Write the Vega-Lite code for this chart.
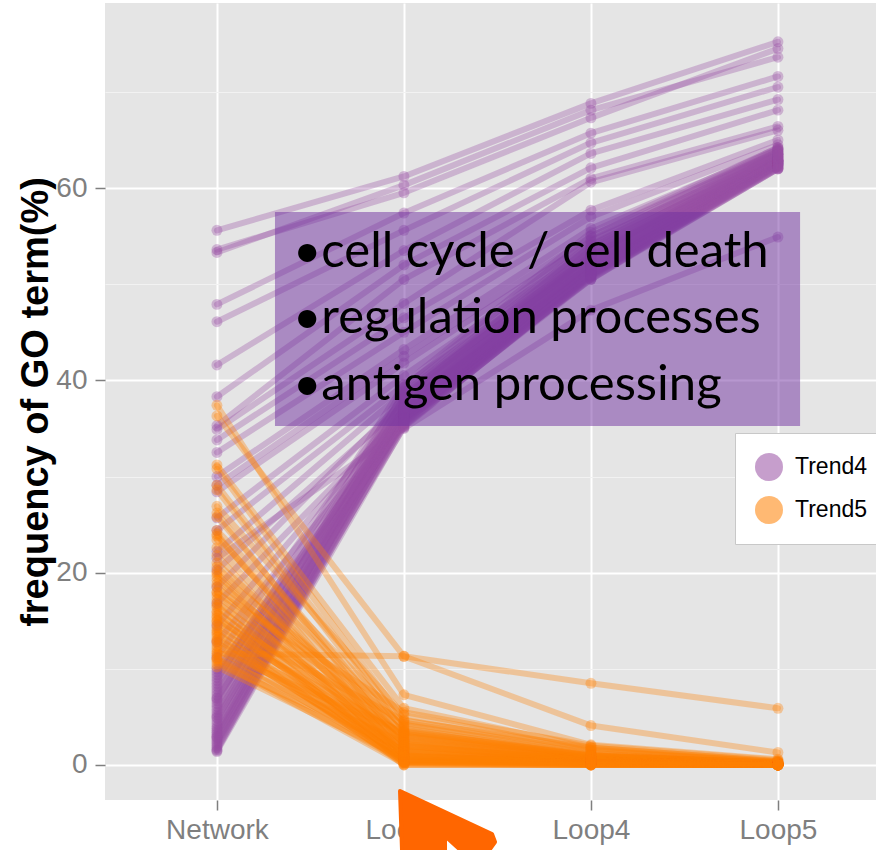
{
  "$schema": "https://vega.github.io/schema/vega-lite/v6.json",
  "width": 771,
  "height": 797,
  "autosize": {"type": "none"},
  "padding": {"left": 105, "top": 3, "right": 0, "bottom": 50},
  "background": "white",
  "config": {
    "view": {"fill": "#E5E5E5", "stroke": null},
    "font": "Liberation Sans"
  },
  "resolve": {"scale": {"x": "independent"}},
  "layer": [
    {
      "data": {"values": [
        {"id":"p1","trend":"Trend4","stage":"Network","pct":55.6},{"id":"p1","trend":"Trend4","stage":"Loop3","pct":61.2},{"id":"p1","trend":"Trend4","stage":"Loop4","pct":68.8},{"id":"p1","trend":"Trend4","stage":"Loop5","pct":75.2},
        {"id":"p2","trend":"Trend4","stage":"Network","pct":53.6},{"id":"p2","trend":"Trend4","stage":"Loop3","pct":59.5},{"id":"p2","trend":"Trend4","stage":"Loop4","pct":67.3},{"id":"p2","trend":"Trend4","stage":"Loop5","pct":74.5},
        {"id":"p3","trend":"Trend4","stage":"Network","pct":53.3},{"id":"p3","trend":"Trend4","stage":"Loop3","pct":60.3},{"id":"p3","trend":"Trend4","stage":"Loop4","pct":68.1},{"id":"p3","trend":"Trend4","stage":"Loop5","pct":73.6},
        {"id":"p4","trend":"Trend4","stage":"Network","pct":47.9},{"id":"p4","trend":"Trend4","stage":"Loop3","pct":57.4},{"id":"p4","trend":"Trend4","stage":"Loop4","pct":65.7},{"id":"p4","trend":"Trend4","stage":"Loop5","pct":71.6},
        {"id":"p5","trend":"Trend4","stage":"Network","pct":46.1},{"id":"p5","trend":"Trend4","stage":"Loop3","pct":55.6},{"id":"p5","trend":"Trend4","stage":"Loop4","pct":64.7},{"id":"p5","trend":"Trend4","stage":"Loop5","pct":70.5},
        {"id":"p6","trend":"Trend4","stage":"Network","pct":41.6},{"id":"p6","trend":"Trend4","stage":"Loop3","pct":53.5},{"id":"p6","trend":"Trend4","stage":"Loop4","pct":63.6},{"id":"p6","trend":"Trend4","stage":"Loop5","pct":69.2},
        {"id":"p7","trend":"Trend4","stage":"Network","pct":38.3},{"id":"p7","trend":"Trend4","stage":"Loop3","pct":52.0},{"id":"p7","trend":"Trend4","stage":"Loop4","pct":62.1},{"id":"p7","trend":"Trend4","stage":"Loop5","pct":68.1},
        {"id":"p8","trend":"Trend4","stage":"Network","pct":35.3},{"id":"p8","trend":"Trend4","stage":"Loop3","pct":50.5},{"id":"p8","trend":"Trend4","stage":"Loop4","pct":61.0},{"id":"p8","trend":"Trend4","stage":"Loop5","pct":66.4},
        {"id":"p9","trend":"Trend4","stage":"Network","pct":34.9},{"id":"p9","trend":"Trend4","stage":"Loop3","pct":48.0},{"id":"p9","trend":"Trend4","stage":"Loop4","pct":60.6},{"id":"p9","trend":"Trend4","stage":"Loop5","pct":66.0},
        {"id":"p10","trend":"Trend4","stage":"Network","pct":33.8},{"id":"p10","trend":"Trend4","stage":"Loop3","pct":46.5},{"id":"p10","trend":"Trend4","stage":"Loop4","pct":57.7},{"id":"p10","trend":"Trend4","stage":"Loop5","pct":65.0},
        {"id":"p11","trend":"Trend4","stage":"Network","pct":32.5},{"id":"p11","trend":"Trend4","stage":"Loop3","pct":45.0},{"id":"p11","trend":"Trend4","stage":"Loop4","pct":57.0},{"id":"p11","trend":"Trend4","stage":"Loop5","pct":64.5},
        {"id":"p12","trend":"Trend4","stage":"Network","pct":30.0},{"id":"p12","trend":"Trend4","stage":"Loop3","pct":43.2},{"id":"p12","trend":"Trend4","stage":"Loop4","pct":55.8},{"id":"p12","trend":"Trend4","stage":"Loop5","pct":64.0},
        {"id":"p13","trend":"Trend4","stage":"Network","pct":29.1},{"id":"p13","trend":"Trend4","stage":"Loop3","pct":42.5},{"id":"p13","trend":"Trend4","stage":"Loop4","pct":55.0},{"id":"p13","trend":"Trend4","stage":"Loop5","pct":63.8},
        {"id":"p14","trend":"Trend4","stage":"Network","pct":28.4},{"id":"p14","trend":"Trend4","stage":"Loop3","pct":41.8},{"id":"p14","trend":"Trend4","stage":"Loop4","pct":54.5},{"id":"p14","trend":"Trend4","stage":"Loop5","pct":63.5},
        {"id":"p15","trend":"Trend4","stage":"Network","pct":25.7},{"id":"p15","trend":"Trend4","stage":"Loop3","pct":40.5},{"id":"p15","trend":"Trend4","stage":"Loop4","pct":53.8},{"id":"p15","trend":"Trend4","stage":"Loop5","pct":63.2},
        {"id":"p16","trend":"Trend4","stage":"Network","pct":24.4},{"id":"p16","trend":"Trend4","stage":"Loop3","pct":39.5},{"id":"p16","trend":"Trend4","stage":"Loop4","pct":53.0},{"id":"p16","trend":"Trend4","stage":"Loop5","pct":62.9},
        {"id":"p17","trend":"Trend4","stage":"Network","pct":22.2},{"id":"p17","trend":"Trend4","stage":"Loop3","pct":38.8},{"id":"p17","trend":"Trend4","stage":"Loop4","pct":52.5},{"id":"p17","trend":"Trend4","stage":"Loop5","pct":62.8},
        {"id":"p18","trend":"Trend4","stage":"Network","pct":21.5},{"id":"p18","trend":"Trend4","stage":"Loop3","pct":35.0},{"id":"p18","trend":"Trend4","stage":"Loop4","pct":47.3},{"id":"p18","trend":"Trend4","stage":"Loop5","pct":54.9},
        {"id":"p19","trend":"Trend4","stage":"Network","pct":20.3},{"id":"p19","trend":"Trend4","stage":"Loop3","pct":37.5},{"id":"p19","trend":"Trend4","stage":"Loop4","pct":51.5},{"id":"p19","trend":"Trend4","stage":"Loop5","pct":62.6},
        {"id":"p20","trend":"Trend4","stage":"Network","pct":18.5},{"id":"p20","trend":"Trend4","stage":"Loop3","pct":38.0},{"id":"p20","trend":"Trend4","stage":"Loop4","pct":52.0},{"id":"p20","trend":"Trend4","stage":"Loop5","pct":62.7},
        {"id":"p21","trend":"Trend4","stage":"Network","pct":16.8},{"id":"p21","trend":"Trend4","stage":"Loop3","pct":36.5},{"id":"p21","trend":"Trend4","stage":"Loop4","pct":51.0},{"id":"p21","trend":"Trend4","stage":"Loop5","pct":62.5},
        {"id":"p22","trend":"Trend4","stage":"Network","pct":14.5},{"id":"p22","trend":"Trend4","stage":"Loop3","pct":37.0},{"id":"p22","trend":"Trend4","stage":"Loop4","pct":51.8},{"id":"p22","trend":"Trend4","stage":"Loop5","pct":62.9},
        {"id":"p23","trend":"Trend4","stage":"Network","pct":12.8},{"id":"p23","trend":"Trend4","stage":"Loop3","pct":36.0},{"id":"p23","trend":"Trend4","stage":"Loop4","pct":50.5},{"id":"p23","trend":"Trend4","stage":"Loop5","pct":62.4},
        {"id":"p24","trend":"Trend4","stage":"Network","pct":11.2},{"id":"p24","trend":"Trend4","stage":"Loop3","pct":38.5},{"id":"p24","trend":"Trend4","stage":"Loop4","pct":53.0},{"id":"p24","trend":"Trend4","stage":"Loop5","pct":63.3},
        {"id":"b1","trend":"Trend4","stage":"Network","pct":1.4},{"id":"b1","trend":"Trend4","stage":"Loop3","pct":35.2},{"id":"b1","trend":"Trend4","stage":"Loop4","pct":50.8},{"id":"b1","trend":"Trend4","stage":"Loop5","pct":62.1},
        {"id":"b2","trend":"Trend4","stage":"Network","pct":1.6},{"id":"b2","trend":"Trend4","stage":"Loop3","pct":35.6},{"id":"b2","trend":"Trend4","stage":"Loop4","pct":51.2},{"id":"b2","trend":"Trend4","stage":"Loop5","pct":62.4},
        {"id":"b3","trend":"Trend4","stage":"Network","pct":1.8},{"id":"b3","trend":"Trend4","stage":"Loop3","pct":36.1},{"id":"b3","trend":"Trend4","stage":"Loop4","pct":51.9},{"id":"b3","trend":"Trend4","stage":"Loop5","pct":62.8},
        {"id":"b4","trend":"Trend4","stage":"Network","pct":2.0},{"id":"b4","trend":"Trend4","stage":"Loop3","pct":35.4},{"id":"b4","trend":"Trend4","stage":"Loop4","pct":50.5},{"id":"b4","trend":"Trend4","stage":"Loop5","pct":62.0},
        {"id":"b5","trend":"Trend4","stage":"Network","pct":2.2},{"id":"b5","trend":"Trend4","stage":"Loop3","pct":36.8},{"id":"b5","trend":"Trend4","stage":"Loop4","pct":52.6},{"id":"b5","trend":"Trend4","stage":"Loop5","pct":63.1},
        {"id":"b6","trend":"Trend4","stage":"Network","pct":2.4},{"id":"b6","trend":"Trend4","stage":"Loop3","pct":35.9},{"id":"b6","trend":"Trend4","stage":"Loop4","pct":51.4},{"id":"b6","trend":"Trend4","stage":"Loop5","pct":62.5},
        {"id":"b7","trend":"Trend4","stage":"Network","pct":2.6},{"id":"b7","trend":"Trend4","stage":"Loop3","pct":37.3},{"id":"b7","trend":"Trend4","stage":"Loop4","pct":53.0},{"id":"b7","trend":"Trend4","stage":"Loop5","pct":63.4},
        {"id":"b8","trend":"Trend4","stage":"Network","pct":2.8},{"id":"b8","trend":"Trend4","stage":"Loop3","pct":36.4},{"id":"b8","trend":"Trend4","stage":"Loop4","pct":52.1},{"id":"b8","trend":"Trend4","stage":"Loop5","pct":62.7},
        {"id":"b9","trend":"Trend4","stage":"Network","pct":3.0},{"id":"b9","trend":"Trend4","stage":"Loop3","pct":35.1},{"id":"b9","trend":"Trend4","stage":"Loop4","pct":50.9},{"id":"b9","trend":"Trend4","stage":"Loop5","pct":62.2},
        {"id":"b10","trend":"Trend4","stage":"Network","pct":3.2},{"id":"b10","trend":"Trend4","stage":"Loop3","pct":37.8},{"id":"b10","trend":"Trend4","stage":"Loop4","pct":53.5},{"id":"b10","trend":"Trend4","stage":"Loop5","pct":63.6},
        {"id":"b11","trend":"Trend4","stage":"Network","pct":3.4},{"id":"b11","trend":"Trend4","stage":"Loop3","pct":36.2},{"id":"b11","trend":"Trend4","stage":"Loop4","pct":51.7},{"id":"b11","trend":"Trend4","stage":"Loop5","pct":62.6},
        {"id":"b12","trend":"Trend4","stage":"Network","pct":3.6},{"id":"b12","trend":"Trend4","stage":"Loop3","pct":38.4},{"id":"b12","trend":"Trend4","stage":"Loop4","pct":54.1},{"id":"b12","trend":"Trend4","stage":"Loop5","pct":63.9},
        {"id":"b13","trend":"Trend4","stage":"Network","pct":3.8},{"id":"b13","trend":"Trend4","stage":"Loop3","pct":35.7},{"id":"b13","trend":"Trend4","stage":"Loop4","pct":51.1},{"id":"b13","trend":"Trend4","stage":"Loop5","pct":62.3},
        {"id":"b14","trend":"Trend4","stage":"Network","pct":4.0},{"id":"b14","trend":"Trend4","stage":"Loop3","pct":37.0},{"id":"b14","trend":"Trend4","stage":"Loop4","pct":52.8},{"id":"b14","trend":"Trend4","stage":"Loop5","pct":63.2},
        {"id":"b15","trend":"Trend4","stage":"Network","pct":4.3},{"id":"b15","trend":"Trend4","stage":"Loop3","pct":36.6},{"id":"b15","trend":"Trend4","stage":"Loop4","pct":52.3},{"id":"b15","trend":"Trend4","stage":"Loop5","pct":62.9},
        {"id":"b16","trend":"Trend4","stage":"Network","pct":4.6},{"id":"b16","trend":"Trend4","stage":"Loop3","pct":38.9},{"id":"b16","trend":"Trend4","stage":"Loop4","pct":54.6},{"id":"b16","trend":"Trend4","stage":"Loop5","pct":64.1},
        {"id":"b17","trend":"Trend4","stage":"Network","pct":4.9},{"id":"b17","trend":"Trend4","stage":"Loop3","pct":35.3},{"id":"b17","trend":"Trend4","stage":"Loop4","pct":50.7},{"id":"b17","trend":"Trend4","stage":"Loop5","pct":62.0},
        {"id":"b18","trend":"Trend4","stage":"Network","pct":5.2},{"id":"b18","trend":"Trend4","stage":"Loop3","pct":37.6},{"id":"b18","trend":"Trend4","stage":"Loop4","pct":53.3},{"id":"b18","trend":"Trend4","stage":"Loop5","pct":63.5},
        {"id":"b19","trend":"Trend4","stage":"Network","pct":5.5},{"id":"b19","trend":"Trend4","stage":"Loop3","pct":36.0},{"id":"b19","trend":"Trend4","stage":"Loop4","pct":51.6},{"id":"b19","trend":"Trend4","stage":"Loop5","pct":62.6},
        {"id":"b20","trend":"Trend4","stage":"Network","pct":5.8},{"id":"b20","trend":"Trend4","stage":"Loop3","pct":39.3},{"id":"b20","trend":"Trend4","stage":"Loop4","pct":55.0},{"id":"b20","trend":"Trend4","stage":"Loop5","pct":64.2},
        {"id":"b21","trend":"Trend4","stage":"Network","pct":6.1},{"id":"b21","trend":"Trend4","stage":"Loop3","pct":36.9},{"id":"b21","trend":"Trend4","stage":"Loop4","pct":52.7},{"id":"b21","trend":"Trend4","stage":"Loop5","pct":63.0},
        {"id":"b22","trend":"Trend4","stage":"Network","pct":6.4},{"id":"b22","trend":"Trend4","stage":"Loop3","pct":35.8},{"id":"b22","trend":"Trend4","stage":"Loop4","pct":51.3},{"id":"b22","trend":"Trend4","stage":"Loop5","pct":62.4},
        {"id":"b23","trend":"Trend4","stage":"Network","pct":6.7},{"id":"b23","trend":"Trend4","stage":"Loop3","pct":38.1},{"id":"b23","trend":"Trend4","stage":"Loop4","pct":53.8},{"id":"b23","trend":"Trend4","stage":"Loop5","pct":63.7},
        {"id":"b24","trend":"Trend4","stage":"Network","pct":7.0},{"id":"b24","trend":"Trend4","stage":"Loop3","pct":36.5},{"id":"b24","trend":"Trend4","stage":"Loop4","pct":52.2},{"id":"b24","trend":"Trend4","stage":"Loop5","pct":62.8},
        {"id":"b25","trend":"Trend4","stage":"Network","pct":7.3},{"id":"b25","trend":"Trend4","stage":"Loop3","pct":37.4},{"id":"b25","trend":"Trend4","stage":"Loop4","pct":53.1},{"id":"b25","trend":"Trend4","stage":"Loop5","pct":63.3},
        {"id":"b26","trend":"Trend4","stage":"Network","pct":7.6},{"id":"b26","trend":"Trend4","stage":"Loop3","pct":35.5},{"id":"b26","trend":"Trend4","stage":"Loop4","pct":50.9},{"id":"b26","trend":"Trend4","stage":"Loop5","pct":62.1},
        {"id":"b27","trend":"Trend4","stage":"Network","pct":7.9},{"id":"b27","trend":"Trend4","stage":"Loop3","pct":38.6},{"id":"b27","trend":"Trend4","stage":"Loop4","pct":54.3},{"id":"b27","trend":"Trend4","stage":"Loop5","pct":64.0},
        {"id":"b28","trend":"Trend4","stage":"Network","pct":8.2},{"id":"b28","trend":"Trend4","stage":"Loop3","pct":36.3},{"id":"b28","trend":"Trend4","stage":"Loop4","pct":51.8},{"id":"b28","trend":"Trend4","stage":"Loop5","pct":62.7},
        {"id":"b29","trend":"Trend4","stage":"Network","pct":8.5},{"id":"b29","trend":"Trend4","stage":"Loop3","pct":37.1},{"id":"b29","trend":"Trend4","stage":"Loop4","pct":52.9},{"id":"b29","trend":"Trend4","stage":"Loop5","pct":63.1},
        {"id":"b30","trend":"Trend4","stage":"Network","pct":8.8},{"id":"b30","trend":"Trend4","stage":"Loop3","pct":39.6},{"id":"b30","trend":"Trend4","stage":"Loop4","pct":55.4},{"id":"b30","trend":"Trend4","stage":"Loop5","pct":64.2},
        {"id":"b31","trend":"Trend4","stage":"Network","pct":9.1},{"id":"b31","trend":"Trend4","stage":"Loop3","pct":36.7},{"id":"b31","trend":"Trend4","stage":"Loop4","pct":52.4},{"id":"b31","trend":"Trend4","stage":"Loop5","pct":62.9},
        {"id":"b32","trend":"Trend4","stage":"Network","pct":9.4},{"id":"b32","trend":"Trend4","stage":"Loop3","pct":35.9},{"id":"b32","trend":"Trend4","stage":"Loop4","pct":51.5},{"id":"b32","trend":"Trend4","stage":"Loop5","pct":62.5},
        {"id":"b33","trend":"Trend4","stage":"Network","pct":9.7},{"id":"b33","trend":"Trend4","stage":"Loop3","pct":37.9},{"id":"b33","trend":"Trend4","stage":"Loop4","pct":53.6},{"id":"b33","trend":"Trend4","stage":"Loop5","pct":63.6},
        {"id":"b34","trend":"Trend4","stage":"Network","pct":10.0},{"id":"b34","trend":"Trend4","stage":"Loop3","pct":36.2},{"id":"b34","trend":"Trend4","stage":"Loop4","pct":52.0},{"id":"b34","trend":"Trend4","stage":"Loop5","pct":62.8},
        {"id":"b35","trend":"Trend4","stage":"Network","pct":2.9},{"id":"b35","trend":"Trend4","stage":"Loop3","pct":38.2},{"id":"b35","trend":"Trend4","stage":"Loop4","pct":54.0},{"id":"b35","trend":"Trend4","stage":"Loop5","pct":63.8},
        {"id":"b36","trend":"Trend4","stage":"Network","pct":5.0},{"id":"b36","trend":"Trend4","stage":"Loop3","pct":36.0},{"id":"b36","trend":"Trend4","stage":"Loop4","pct":51.0},{"id":"b36","trend":"Trend4","stage":"Loop5","pct":62.3},
        {"id":"b37","trend":"Trend4","stage":"Network","pct":6.9},{"id":"b37","trend":"Trend4","stage":"Loop3","pct":35.6},{"id":"b37","trend":"Trend4","stage":"Loop4","pct":50.6},{"id":"b37","trend":"Trend4","stage":"Loop5","pct":62.0},
        {"id":"b38","trend":"Trend4","stage":"Network","pct":1.5},{"id":"b38","trend":"Trend4","stage":"Loop3","pct":37.2},{"id":"b38","trend":"Trend4","stage":"Loop4","pct":53.2},{"id":"b38","trend":"Trend4","stage":"Loop5","pct":63.5},
        {"id":"o1","trend":"Trend5","stage":"Network","pct":37.4},{"id":"o1","trend":"Trend5","stage":"Loop3","pct":7.3},{"id":"o1","trend":"Trend5","stage":"Loop4","pct":2.1},{"id":"o1","trend":"Trend5","stage":"Loop5","pct":0.6},
        {"id":"o2","trend":"Trend5","stage":"Network","pct":36.3},{"id":"o2","trend":"Trend5","stage":"Loop3","pct":11.3},{"id":"o2","trend":"Trend5","stage":"Loop4","pct":4.1},{"id":"o2","trend":"Trend5","stage":"Loop5","pct":1.3},
        {"id":"o3","trend":"Trend5","stage":"Network","pct":11.6},{"id":"o3","trend":"Trend5","stage":"Loop3","pct":11.3},{"id":"o3","trend":"Trend5","stage":"Loop4","pct":8.5},{"id":"o3","trend":"Trend5","stage":"Loop5","pct":5.9},
        {"id":"o4","trend":"Trend5","stage":"Network","pct":31.2},{"id":"o4","trend":"Trend5","stage":"Loop3","pct":5.9},{"id":"o4","trend":"Trend5","stage":"Loop4","pct":1.8},{"id":"o4","trend":"Trend5","stage":"Loop5","pct":0.4},
        {"id":"o5","trend":"Trend5","stage":"Network","pct":30.8},{"id":"o5","trend":"Trend5","stage":"Loop3","pct":4.7},{"id":"o5","trend":"Trend5","stage":"Loop4","pct":1.5},{"id":"o5","trend":"Trend5","stage":"Loop5","pct":0.3},
        {"id":"o6","trend":"Trend5","stage":"Network","pct":29.1},{"id":"o6","trend":"Trend5","stage":"Loop3","pct":4.2},{"id":"o6","trend":"Trend5","stage":"Loop4","pct":1.2},{"id":"o6","trend":"Trend5","stage":"Loop5","pct":0.2},
        {"id":"o7","trend":"Trend5","stage":"Network","pct":28.6},{"id":"o7","trend":"Trend5","stage":"Loop3","pct":3.6},{"id":"o7","trend":"Trend5","stage":"Loop4","pct":0.9},{"id":"o7","trend":"Trend5","stage":"Loop5","pct":0.2},
        {"id":"o8","trend":"Trend5","stage":"Network","pct":26.9},{"id":"o8","trend":"Trend5","stage":"Loop3","pct":5.2},{"id":"o8","trend":"Trend5","stage":"Loop4","pct":1.6},{"id":"o8","trend":"Trend5","stage":"Loop5","pct":0.3},
        {"id":"o9","trend":"Trend5","stage":"Network","pct":25.8},{"id":"o9","trend":"Trend5","stage":"Loop3","pct":3.1},{"id":"o9","trend":"Trend5","stage":"Loop4","pct":0.8},{"id":"o9","trend":"Trend5","stage":"Loop5","pct":0.1},
        {"id":"o10","trend":"Trend5","stage":"Network","pct":24.4},{"id":"o10","trend":"Trend5","stage":"Loop3","pct":4.4},{"id":"o10","trend":"Trend5","stage":"Loop4","pct":1.4},{"id":"o10","trend":"Trend5","stage":"Loop5","pct":0.3},
        {"id":"o11","trend":"Trend5","stage":"Network","pct":23.8},{"id":"o11","trend":"Trend5","stage":"Loop3","pct":2.6},{"id":"o11","trend":"Trend5","stage":"Loop4","pct":0.6},{"id":"o11","trend":"Trend5","stage":"Loop5","pct":0.1},
        {"id":"o12","trend":"Trend5","stage":"Network","pct":23.4},{"id":"o12","trend":"Trend5","stage":"Loop3","pct":3.8},{"id":"o12","trend":"Trend5","stage":"Loop4","pct":1.0},{"id":"o12","trend":"Trend5","stage":"Loop5","pct":0.2},
        {"id":"o13","trend":"Trend5","stage":"Network","pct":22.6},{"id":"o13","trend":"Trend5","stage":"Loop3","pct":1.9},{"id":"o13","trend":"Trend5","stage":"Loop4","pct":0.5},{"id":"o13","trend":"Trend5","stage":"Loop5","pct":0.1},
        {"id":"o14","trend":"Trend5","stage":"Network","pct":21.0},{"id":"o14","trend":"Trend5","stage":"Loop3","pct":3.3},{"id":"o14","trend":"Trend5","stage":"Loop4","pct":0.9},{"id":"o14","trend":"Trend5","stage":"Loop5","pct":0.2},
        {"id":"o15","trend":"Trend5","stage":"Network","pct":20.6},{"id":"o15","trend":"Trend5","stage":"Loop3","pct":2.2},{"id":"o15","trend":"Trend5","stage":"Loop4","pct":0.4},{"id":"o15","trend":"Trend5","stage":"Loop5","pct":0.0},
        {"id":"o16","trend":"Trend5","stage":"Network","pct":20.1},{"id":"o16","trend":"Trend5","stage":"Loop3","pct":4.0},{"id":"o16","trend":"Trend5","stage":"Loop4","pct":1.1},{"id":"o16","trend":"Trend5","stage":"Loop5","pct":0.2},
        {"id":"o17","trend":"Trend5","stage":"Network","pct":19.6},{"id":"o17","trend":"Trend5","stage":"Loop3","pct":1.5},{"id":"o17","trend":"Trend5","stage":"Loop4","pct":0.3},{"id":"o17","trend":"Trend5","stage":"Loop5","pct":0.0},
        {"id":"o18","trend":"Trend5","stage":"Network","pct":19.2},{"id":"o18","trend":"Trend5","stage":"Loop3","pct":2.9},{"id":"o18","trend":"Trend5","stage":"Loop4","pct":0.7},{"id":"o18","trend":"Trend5","stage":"Loop5","pct":0.1},
        {"id":"o19","trend":"Trend5","stage":"Network","pct":18.8},{"id":"o19","trend":"Trend5","stage":"Loop3","pct":0.8},{"id":"o19","trend":"Trend5","stage":"Loop4","pct":0.2},{"id":"o19","trend":"Trend5","stage":"Loop5","pct":0.0},
        {"id":"o20","trend":"Trend5","stage":"Network","pct":18.5},{"id":"o20","trend":"Trend5","stage":"Loop3","pct":3.5},{"id":"o20","trend":"Trend5","stage":"Loop4","pct":1.0},{"id":"o20","trend":"Trend5","stage":"Loop5","pct":0.2},
        {"id":"o21","trend":"Trend5","stage":"Network","pct":18.0},{"id":"o21","trend":"Trend5","stage":"Loop3","pct":1.2},{"id":"o21","trend":"Trend5","stage":"Loop4","pct":0.3},{"id":"o21","trend":"Trend5","stage":"Loop5","pct":0.0},
        {"id":"o22","trend":"Trend5","stage":"Network","pct":17.6},{"id":"o22","trend":"Trend5","stage":"Loop3","pct":2.4},{"id":"o22","trend":"Trend5","stage":"Loop4","pct":0.6},{"id":"o22","trend":"Trend5","stage":"Loop5","pct":0.1},
        {"id":"o23","trend":"Trend5","stage":"Network","pct":17.2},{"id":"o23","trend":"Trend5","stage":"Loop3","pct":0.5},{"id":"o23","trend":"Trend5","stage":"Loop4","pct":0.1},{"id":"o23","trend":"Trend5","stage":"Loop5","pct":0.0},
        {"id":"o24","trend":"Trend5","stage":"Network","pct":16.9},{"id":"o24","trend":"Trend5","stage":"Loop3","pct":3.0},{"id":"o24","trend":"Trend5","stage":"Loop4","pct":0.8},{"id":"o24","trend":"Trend5","stage":"Loop5","pct":0.1},
        {"id":"o25","trend":"Trend5","stage":"Network","pct":16.4},{"id":"o25","trend":"Trend5","stage":"Loop3","pct":1.7},{"id":"o25","trend":"Trend5","stage":"Loop4","pct":0.4},{"id":"o25","trend":"Trend5","stage":"Loop5","pct":0.0},
        {"id":"o26","trend":"Trend5","stage":"Network","pct":16.0},{"id":"o26","trend":"Trend5","stage":"Loop3","pct":0.3},{"id":"o26","trend":"Trend5","stage":"Loop4","pct":0.1},{"id":"o26","trend":"Trend5","stage":"Loop5","pct":0.0},
        {"id":"o27","trend":"Trend5","stage":"Network","pct":15.8},{"id":"o27","trend":"Trend5","stage":"Loop3","pct":2.7},{"id":"o27","trend":"Trend5","stage":"Loop4","pct":0.7},{"id":"o27","trend":"Trend5","stage":"Loop5","pct":0.1},
        {"id":"o28","trend":"Trend5","stage":"Network","pct":15.3},{"id":"o28","trend":"Trend5","stage":"Loop3","pct":1.0},{"id":"o28","trend":"Trend5","stage":"Loop4","pct":0.2},{"id":"o28","trend":"Trend5","stage":"Loop5","pct":0.0},
        {"id":"o29","trend":"Trend5","stage":"Network","pct":15.0},{"id":"o29","trend":"Trend5","stage":"Loop3","pct":4.6},{"id":"o29","trend":"Trend5","stage":"Loop4","pct":1.8},{"id":"o29","trend":"Trend5","stage":"Loop5","pct":0.4},
        {"id":"o30","trend":"Trend5","stage":"Network","pct":14.6},{"id":"o30","trend":"Trend5","stage":"Loop3","pct":2.0},{"id":"o30","trend":"Trend5","stage":"Loop4","pct":0.5},{"id":"o30","trend":"Trend5","stage":"Loop5","pct":0.1},
        {"id":"o31","trend":"Trend5","stage":"Network","pct":14.3},{"id":"o31","trend":"Trend5","stage":"Loop3","pct":0.6},{"id":"o31","trend":"Trend5","stage":"Loop4","pct":0.1},{"id":"o31","trend":"Trend5","stage":"Loop5","pct":0.0},
        {"id":"o32","trend":"Trend5","stage":"Network","pct":14.0},{"id":"o32","trend":"Trend5","stage":"Loop3","pct":3.2},{"id":"o32","trend":"Trend5","stage":"Loop4","pct":0.9},{"id":"o32","trend":"Trend5","stage":"Loop5","pct":0.2},
        {"id":"o33","trend":"Trend5","stage":"Network","pct":13.6},{"id":"o33","trend":"Trend5","stage":"Loop3","pct":1.4},{"id":"o33","trend":"Trend5","stage":"Loop4","pct":0.3},{"id":"o33","trend":"Trend5","stage":"Loop5","pct":0.0},
        {"id":"o34","trend":"Trend5","stage":"Network","pct":13.3},{"id":"o34","trend":"Trend5","stage":"Loop3","pct":0.2},{"id":"o34","trend":"Trend5","stage":"Loop4","pct":0.0},{"id":"o34","trend":"Trend5","stage":"Loop5","pct":0.0},
        {"id":"o35","trend":"Trend5","stage":"Network","pct":13.0},{"id":"o35","trend":"Trend5","stage":"Loop3","pct":2.5},{"id":"o35","trend":"Trend5","stage":"Loop4","pct":0.6},{"id":"o35","trend":"Trend5","stage":"Loop5","pct":0.1},
        {"id":"o36","trend":"Trend5","stage":"Network","pct":12.7},{"id":"o36","trend":"Trend5","stage":"Loop3","pct":0.9},{"id":"o36","trend":"Trend5","stage":"Loop4","pct":0.2},{"id":"o36","trend":"Trend5","stage":"Loop5","pct":0.0},
        {"id":"o37","trend":"Trend5","stage":"Network","pct":12.4},{"id":"o37","trend":"Trend5","stage":"Loop3","pct":1.8},{"id":"o37","trend":"Trend5","stage":"Loop4","pct":0.4},{"id":"o37","trend":"Trend5","stage":"Loop5","pct":0.1},
        {"id":"o38","trend":"Trend5","stage":"Network","pct":12.1},{"id":"o38","trend":"Trend5","stage":"Loop3","pct":0.4},{"id":"o38","trend":"Trend5","stage":"Loop4","pct":0.1},{"id":"o38","trend":"Trend5","stage":"Loop5","pct":0.0},
        {"id":"o39","trend":"Trend5","stage":"Network","pct":11.8},{"id":"o39","trend":"Trend5","stage":"Loop3","pct":3.4},{"id":"o39","trend":"Trend5","stage":"Loop4","pct":1.0},{"id":"o39","trend":"Trend5","stage":"Loop5","pct":0.2},
        {"id":"o40","trend":"Trend5","stage":"Network","pct":11.4},{"id":"o40","trend":"Trend5","stage":"Loop3","pct":1.1},{"id":"o40","trend":"Trend5","stage":"Loop4","pct":0.2},{"id":"o40","trend":"Trend5","stage":"Loop5","pct":0.0},
        {"id":"o41","trend":"Trend5","stage":"Network","pct":11.1},{"id":"o41","trend":"Trend5","stage":"Loop3","pct":2.3},{"id":"o41","trend":"Trend5","stage":"Loop4","pct":0.5},{"id":"o41","trend":"Trend5","stage":"Loop5","pct":0.1},
        {"id":"o42","trend":"Trend5","stage":"Network","pct":10.8},{"id":"o42","trend":"Trend5","stage":"Loop3","pct":0.1},{"id":"o42","trend":"Trend5","stage":"Loop4","pct":0.0},{"id":"o42","trend":"Trend5","stage":"Loop5","pct":0.0},
        {"id":"o43","trend":"Trend5","stage":"Network","pct":10.5},{"id":"o43","trend":"Trend5","stage":"Loop3","pct":1.6},{"id":"o43","trend":"Trend5","stage":"Loop4","pct":0.3},{"id":"o43","trend":"Trend5","stage":"Loop5","pct":0.0},
        {"id":"o44","trend":"Trend5","stage":"Network","pct":10.2},{"id":"o44","trend":"Trend5","stage":"Loop3","pct":0.7},{"id":"o44","trend":"Trend5","stage":"Loop4","pct":0.1},{"id":"o44","trend":"Trend5","stage":"Loop5","pct":0.0},
        {"id":"o45","trend":"Trend5","stage":"Network","pct":19.9},{"id":"o45","trend":"Trend5","stage":"Loop3","pct":0.4},{"id":"o45","trend":"Trend5","stage":"Loop4","pct":0.1},{"id":"o45","trend":"Trend5","stage":"Loop5","pct":0.0},
        {"id":"o46","trend":"Trend5","stage":"Network","pct":17.9},{"id":"o46","trend":"Trend5","stage":"Loop3","pct":5.5},{"id":"o46","trend":"Trend5","stage":"Loop4","pct":2.0},{"id":"o46","trend":"Trend5","stage":"Loop5","pct":0.5},
        {"id":"o47","trend":"Trend5","stage":"Network","pct":16.6},{"id":"o47","trend":"Trend5","stage":"Loop3","pct":0.2},{"id":"o47","trend":"Trend5","stage":"Loop4","pct":0.0},{"id":"o47","trend":"Trend5","stage":"Loop5","pct":0.0},
        {"id":"o48","trend":"Trend5","stage":"Network","pct":14.9},{"id":"o48","trend":"Trend5","stage":"Loop3","pct":1.3},{"id":"o48","trend":"Trend5","stage":"Loop4","pct":0.3},{"id":"o48","trend":"Trend5","stage":"Loop5","pct":0.0},
        {"id":"o49","trend":"Trend5","stage":"Network","pct":13.8},{"id":"o49","trend":"Trend5","stage":"Loop3","pct":0.0},{"id":"o49","trend":"Trend5","stage":"Loop4","pct":0.0},{"id":"o49","trend":"Trend5","stage":"Loop5","pct":0.0},
        {"id":"o50","trend":"Trend5","stage":"Network","pct":12.9},{"id":"o50","trend":"Trend5","stage":"Loop3","pct":0.6},{"id":"o50","trend":"Trend5","stage":"Loop4","pct":0.1},{"id":"o50","trend":"Trend5","stage":"Loop5","pct":0.0},
        {"id":"o51","trend":"Trend5","stage":"Network","pct":21.8},{"id":"o51","trend":"Trend5","stage":"Loop3","pct":1.0},{"id":"o51","trend":"Trend5","stage":"Loop4","pct":0.2},{"id":"o51","trend":"Trend5","stage":"Loop5","pct":0.0},
        {"id":"o52","trend":"Trend5","stage":"Network","pct":26.2},{"id":"o52","trend":"Trend5","stage":"Loop3","pct":2.0},{"id":"o52","trend":"Trend5","stage":"Loop4","pct":0.5},{"id":"o52","trend":"Trend5","stage":"Loop5","pct":0.1},
        {"id":"o53","trend":"Trend5","stage":"Network","pct":11.0},{"id":"o53","trend":"Trend5","stage":"Loop3","pct":0.3},{"id":"o53","trend":"Trend5","stage":"Loop4","pct":0.0},{"id":"o53","trend":"Trend5","stage":"Loop5","pct":0.0},
        {"id":"o54","trend":"Trend5","stage":"Network","pct":15.5},{"id":"o54","trend":"Trend5","stage":"Loop3","pct":0.0},{"id":"o54","trend":"Trend5","stage":"Loop4","pct":0.0},{"id":"o54","trend":"Trend5","stage":"Loop5","pct":0.0},
        {"id":"o55","trend":"Trend5","stage":"Network","pct":24.0},{"id":"o55","trend":"Trend5","stage":"Loop3","pct":0.9},{"id":"o55","trend":"Trend5","stage":"Loop4","pct":0.2},{"id":"o55","trend":"Trend5","stage":"Loop5","pct":0.0}
      ]},
      "encoding": {
        "x": {
          "field": "stage", "type": "nominal",
          "sort": ["Network", "Loop3", "Loop4", "Loop5"],
          "scale": {"type": "point", "padding": 0.5615, "align": 0.533},
          "axis": {
            "title": null, "labelAngle": 0, "labelFontSize": 28, "labelColor": "#7F7F7F",
            "labelPadding": 6, "tickColor": "#7F7F7F", "tickSize": 10, "tickWidth": 1.5,
            "domain": false, "grid": true, "gridColor": "#FFFFFF", "gridWidth": 2
          }
        },
        "y": {
          "field": "pct", "type": "quantitative",
          "title": "frequency of GO term(%)",
          "scale": {"domain": [-3.64, 79.24], "nice": false, "zero": false},
          "axis": {
            "values": [0, 10, 20, 30, 40, 50, 60, 70],
            "labelExpr": "datum.value % 20 === 0 ? datum.label : ''",
            "labelFontSize": 28, "labelColor": "#7F7F7F", "labelPadding": 8,
            "tickColor": "#7F7F7F", "tickSize": 10, "tickWidth": 1.5,
            "tickOpacity": {"condition": {"test": "datum.value % 20 !== 0", "value": 0}, "value": 1},
            "domain": false, "grid": true,
            "gridColor": {"condition": {"test": "datum.value % 20 !== 0", "value": "#F2F2F2"}, "value": "#FFFFFF"},
            "gridWidth": {"condition": {"test": "datum.value % 20 !== 0", "value": 1}, "value": 2},
            "titleFontSize": 38, "titleFontWeight": "bold", "titleColor": "#000000", "titlePadding": 0
          }
        },
        "color": {
          "field": "trend", "type": "nominal",
          "scale": {"domain": ["Trend4", "Trend5"], "range": ["#984EA3", "#FF7F00"]},
          "legend": {
            "title": null, "orient": "none", "legendX": 630, "legendY": 430,
            "fillColor": "#FFFFFF", "strokeColor": "#C8C8C8", "padding": 20,
            "symbolType": "circle", "symbolSize": 784, "symbolOpacity": 0.55, "symbolStrokeWidth": 0,
            "labelFontSize": 23, "labelColor": "#000000", "labelOffset": 12, "rowPadding": 15
          }
        },
        "detail": {"field": "id"}
      },
      "layer": [
        {"mark": {"type": "line", "strokeWidth": 6, "opacity": 0.33, "strokeCap": "round", "strokeJoin": "round"}},
        {"mark": {"type": "circle", "size": 120, "opacity": 0.35}}
      ]
    },
    {
      "data": {"values": [{"from": 0.31, "to": 3.118, "top": 57.51, "bottom": 35.26}]},
      "mark": {"type": "rect", "color": "#7030A0", "opacity": 0.5},
      "encoding": {
        "x": {"field": "from", "type": "quantitative", "scale": {"domain": [-0.599, 3.524], "nice": false, "zero": false}, "axis": null},
        "x2": {"field": "to"},
        "y": {"field": "top", "type": "quantitative", "title": "frequency of GO term(%)"},
        "y2": {"field": "bottom"}
      }
    },
    {
      "data": {"values": [
        {"at": 0.406, "pct": 51.8, "note": "•cell cycle / cell death"},
        {"at": 0.406, "pct": 44.9, "note": "•regulation processes"},
        {"at": 0.406, "pct": 38.0, "note": "•antigen processing"}
      ]},
      "mark": {"type": "text", "font": "Lato", "fontSize": 49, "color": "#000000", "align": "left", "baseline": "alphabetic"},
      "encoding": {
        "x": {"field": "at", "type": "quantitative", "scale": {"domain": [-0.599, 3.524], "nice": false, "zero": false}, "axis": null},
        "y": {"field": "pct", "type": "quantitative", "title": "frequency of GO term(%)"},
        "text": {"field": "note"}
      }
    },
    {
      "data": {"values": [{"at": 1.0, "pct": -7.28}]},
      "mark": {
        "type": "point",
        "shape": "M-0.08,-0.88L1.76,-0.02L1.82,0.14L1.48,0.62L0.82,0.02L0.82,0.9L-0.02,0.9Z",
        "size": 10000, "filled": true, "opacity": 1,
        "fill": "#FF6600", "stroke": "#FF6600", "strokeWidth": 4, "strokeJoin": "round"
      },
      "encoding": {
        "x": {"field": "at", "type": "quantitative", "scale": {"domain": [-0.599, 3.524], "nice": false, "zero": false}, "axis": null},
        "y": {"field": "pct", "type": "quantitative", "title": "frequency of GO term(%)"}
      }
    }
  ]
}
